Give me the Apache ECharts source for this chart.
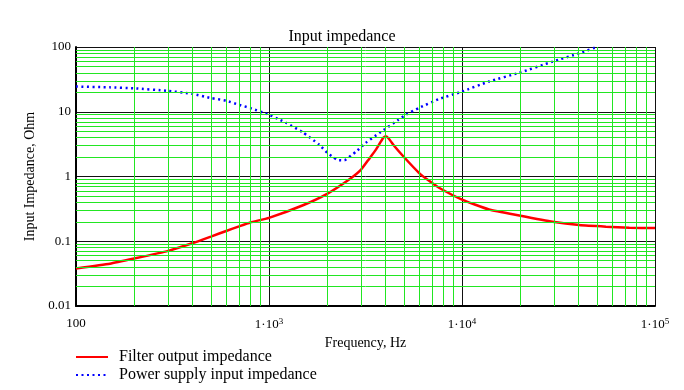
<!DOCTYPE html>
<html>
<head>
<meta charset="utf-8">
<script src="https://cdn.jsdelivr.net/npm/echarts@6/dist/echarts.min.js"></script>
<style>html,body{margin:0;padding:0;background:#fff;}#c{width:684px;height:390px;}</style>
</head>
<body>
<div id="c"></div>
<script>
// ---- data ----
const filterFreq = [100,150,200,300,400,500,600,700,800,1000,1500,2000,2600,3000,3300,3580,3895,4025,4190,4470,5000,6000,6780,7600,10000,13800,19800,29500,40500,55700,73600,100000];
const filterZ    = [0.038,0.045,0.054,0.071,0.093,0.118,0.144,0.17,0.195,0.23,0.36,0.54,0.9,1.28,1.87,2.6,3.9,4.17,3.8,2.93,2.0,1.13,0.85,0.67,0.44,0.31,0.25,0.2,0.178,0.168,0.162,0.16];
const supplyFreq = [100,150,200,300,400,500,600,700,800,1000,1130,1230,1500,1820,2010,2145,2270,2460,2660,2820,3170,3730,4680,5120,6000,7600,10000,13800,19800,29500,40500,50000];
const supplyZ    = [24.5,23.8,23,21,18.9,16.3,14.8,12.8,11.4,9.0,7.6,6.7,4.8,3.1,2.3,2.0,1.8,1.78,2.1,2.4,3.3,4.7,7.5,9.0,11.5,15.7,20.5,29.3,40,59.5,80,100];
const xTickLabels = {100:'100', 1000:'1·10{s|3}', 10000:'1·10{s|4}', 100000:'1·10{s|5}'};
const yTickLabels = ['0.01','0.1','1','10','100'];
const minorMult = [2,3,4,5,6,7,8,9];
const xDecades = [100,1000,10000];
const yDecades = [0.01,0.1,1,10];

const FONT = 'Liberation Serif';
const green = '#22e622';

const vLines = [], hLines = [];
xDecades.forEach(d => minorMult.forEach(m => vLines.push({xAxis: d*m})));
yDecades.forEach(d => minorMult.forEach(m => hLines.push({yAxis: +(d*m).toPrecision(3)})));

const chart = echarts.init(document.getElementById('c'));
chart.setOption({
  animation: false,
  backgroundColor: '#fff',
  title: {
    text: 'Input impedance', left: 'center', top: 24,
    textStyle: {fontFamily: FONT, fontSize: 16, fontWeight: 'normal', color: '#000'}
  },
  legend: {
    orient: 'vertical', left: 70, top: 344, height: 46,
    itemWidth: 32, itemHeight: 10, itemGap: 2,
    data: ['Filter output impedance', 'Power supply input impedance'],
    itemStyle: {opacity: 0},
    textStyle: {fontFamily: FONT, fontSize: 16, color: '#000', padding: [0,0,0,6]}
  },
  grid: {left: 76, right: 29, top: 47, bottom: 84, containLabel: false},
  xAxis: {
    type: 'log', logBase: 10, min: 100, max: 100000,
    name: 'Frequency, Hz', nameLocation: 'middle', nameGap: 22,
    nameTextStyle: {fontFamily: FONT, fontSize: 14, color: '#000'},
    axisLine: {show: true, lineStyle: {color: '#000', width: 2}},
    axisTick: {show: false},
    axisLabel: {
      margin: 11, fontFamily: FONT, fontSize: 13, color: '#000',
      formatter: v => xTickLabels[Math.round(v)] || '',
      rich: {s: {fontFamily: FONT, fontSize: 9, color: '#000', verticalAlign: 'top', padding: [0,0,6,0]}}
    },
    splitLine: {show: true, lineStyle: {color: '#111', width: 1}}
  },
  yAxis: {
    type: 'log', logBase: 10, min: 0.01, max: 100,
    name: 'Input Impedance, Ohm', nameLocation: 'middle', nameGap: 33,
    nameTextStyle: {fontFamily: FONT, fontSize: 14, color: '#000'},
    axisLine: {show: true, lineStyle: {color: '#000', width: 2}},
    axisTick: {show: false},
    axisLabel: {
      margin: 5, fontFamily: FONT, fontSize: 13, color: '#000',
      formatter: v => yTickLabels[Math.round(Math.log10(v)) + 2] || ''
    },
    splitLine: {show: true, lineStyle: {color: '#111', width: 1}}
  },
  series: [
    {
      name: 'grid-minor', type: 'line', data: [], z: 1, silent: true,
      markLine: {
        silent: true, symbol: ['none','none'], animation: false,
        label: {show: false},
        lineStyle: {color: green, width: 1, type: 'solid'},
        data: vLines.concat(hLines)
      }
    },
    {
      name: 'Filter output impedance', type: 'line', z: 4,
      data: filterFreq.map((f, i) => [f, filterZ[i]]),
      symbol: 'none', smooth: 0.15,
      lineStyle: {color: '#ff0000', width: 2.5},
      itemStyle: {color: '#ff0000'}
    },
    {
      name: 'Power supply input impedance', type: 'line', z: 3,
      data: supplyFreq.map((f, i) => [f, supplyZ[i]]),
      symbol: 'none', smooth: 0.15,
      lineStyle: {color: '#0000ff', width: 2.5, type: [2, 3.5]},
      itemStyle: {color: '#0000ff'}
    }
  ]
});
</script>
</body>
</html>
